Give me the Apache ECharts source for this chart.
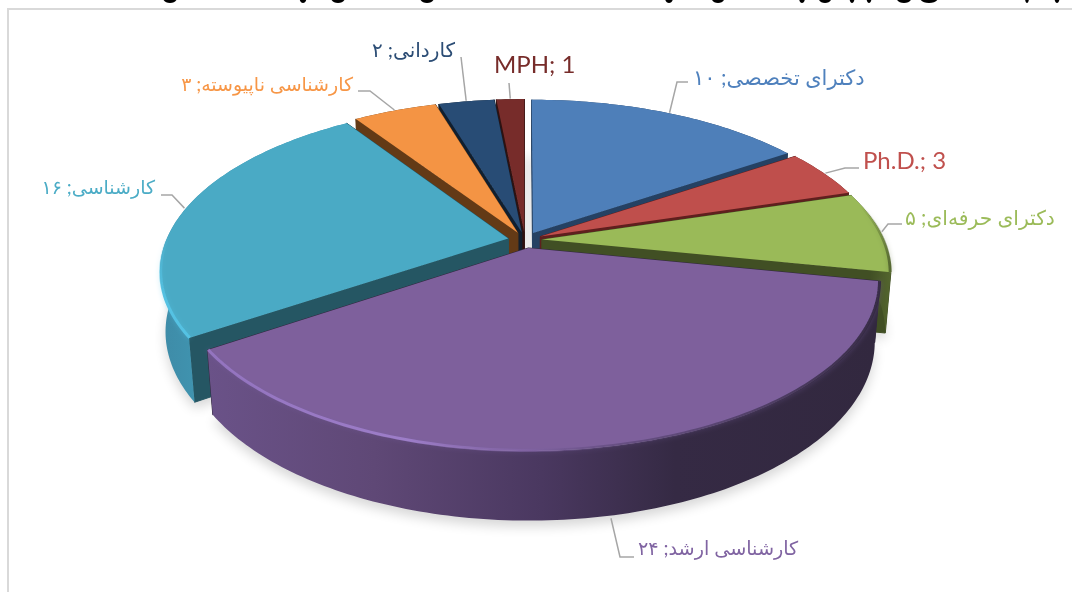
<!DOCTYPE html>
<html>
<head>
<meta charset="utf-8">
<script src="https://cdn.jsdelivr.net/npm/echarts@6/dist/echarts.min.js"></script>
<style>
    html, body {margin: 0; padding: 0; background: #fff;}
    #chart {width: 1072px; height: 592px;}
</style>
</head>
<body>
<div id="chart"></div>
<script>
// 数据
var categories = ['دکترای تخصصی', 'Ph.D.', 'دکترای حرفه‌ای', 'کارشناسی ارشد', 'کارشناسی', 'کارشناسی ناپیوسته', 'کاردانی', 'MPH'];
var seriesValues = [10, 3, 5, 24, 16, 3, 2, 1];
var valueLabels = ['۱۰', '3', '۵', '۲۴', '۱۶', '۳', '۲', '1'];

// 样式
var topColors = ['#4e7fb9', '#bf4f4c', '#9aba58', '#7e609c', '#4aaac5', '#f49444', '#284c75', '#772c2a'];
var wallColors = ['#254163', '#5f1f1e', '#414f24', '#32283f', '#255663', '#633a16', '#111f2f', '#2f1110'];
var textColors = ['#4f81bd', '#c0504d', '#9bbb59', '#8064a2', '#4bacc6', '#f79646', '#2c4d75', '#772c2a'];
var paintOrder = [7, 0, 6, 5, 1, 2, 4, 3];
// leader elbow and label anchor: page pixels
var labelLayout = [
    {elbow: [[677, 82], [688, 82]], x: 693, y: 78, align: 'left', size: 21},
    {elbow: [[845, 168], [859, 168]], x: 863, y: 161, align: 'left', size: 24},
    {elbow: [[888, 224], [902, 224]], x: 905, y: 218, align: 'left', size: 20.3},
    {elbow: [[620, 557], [634, 557]], x: 638, y: 549, align: 'left', size: 19.2},
    {elbow: [[172, 195], [161, 195]], x: 155, y: 188, align: 'right', size: 19},
    {elbow: [[370, 91], [358, 91]], x: 353, y: 85, align: 'right', size: 19},
    {elbow: [[461, 57]], x: 455, y: 51, align: 'right', size: 20},
    {elbow: [[509, 83]], x: 494, y: 65, align: 'left', size: 24}
];
var titleBits = [[170, 14], [303, 7], [338, 14], [427, 14], [669, 8], [718, 13], [802, 6], [825, 13], [852, 5], [869, 5], [904, 15], [929, 18], [1027, 4], [1057, 5]];

// 投影参数
var cx = 525, cy = 240, a = 342, b = 161, c = 60, p = 0.19, q = 0.015, explode = 0.05;
var total = seriesValues.reduce(function (s, v) {return s + v;}, 0);

function sliceAngles(index) {
    var before = 0;
    for (var i = 0; i < index; i++) {
        before += seriesValues[i];
    }
    var start = before / total * Math.PI * 2;
    var end = (before + seriesValues[index]) / total * Math.PI * 2;
    return {start: start, end: end, mid: (start + end) / 2};
}

function project(mid, angle, r, z) {
    var u = r * Math.sin(angle) + explode * Math.sin(mid);
    var v = r * Math.cos(angle) + explode * Math.cos(mid);
    var w = 1 + p * v - q * z;
    return [cx + a * u / w, cy - (b * v + c * z) / w];
}

function arcPoints(angles, r, z, reverse) {
    var steps = Math.max(4, Math.round((angles.end - angles.start) * 180 / Math.PI));
    var pts = [];
    for (var i = 0; i <= steps; i++) {
        var t = angles.start + (angles.end - angles.start) * i / steps;
        pts.push(project(angles.mid, t, r, z));
    }
    return reverse ? pts.reverse() : pts;
}

function grad(x0, y0, x1, y1, stops) {
    return new echarts.graphic.LinearGradient(x0, y0, x1, y1, stops, true);
}

// 侧面和顶面高光
var rimFill = {
    3: grad(208, 0, 875, 0, [{offset: 0, color: '#6a5288'}, {offset: 0.25, color: '#5f4876'}, {offset: 0.5, color: '#4a3860'}, {offset: 0.7, color: '#352a44'}, {offset: 1, color: '#32283f'}]),
    4: grad(157, 0, 210, 0, [{offset: 0, color: '#3e8aa6'}, {offset: 1, color: '#4097b3'}]),
    2: grad(870, 0, 892, 0, [{offset: 0, color: '#414f24'}, {offset: 1, color: '#55672f'}])
};
var bevelStroke = {
    3: grad(208, 0, 875, 0, [{offset: 0, color: 'rgba(150,118,195,0.9)'}, {offset: 0.3, color: 'rgba(160,128,205,0.9)'}, {offset: 0.48, color: 'rgba(130,100,165,0.6)'}, {offset: 0.62, color: 'rgba(80,62,105,0.5)'}, {offset: 1, color: 'rgba(50,40,63,0.9)'}]),
    4: grad(0, 235, 0, 300, [{offset: 0, color: 'rgba(85,194,227,0)'}, {offset: 1, color: 'rgba(85,194,227,1)'}]),
    2: grad(0, 205, 0, 265, [{offset: 0, color: 'rgba(80,98,45,0)'}, {offset: 1, color: 'rgba(80,98,45,0.9)'}])
};
var bevelGlow = {3: 'rgba(120,95,160,0.5)', 4: 'rgba(85,194,227,0.4)', 2: 'rgba(80,98,45,0.4)'};

function renderSlice(params, api) {
    var index = params.dataIndex;
    var angles = sliceAngles(index);
    var order = paintOrder.indexOf(index);
    var base = order * 10 + 10;
    var color = topColors[index];
    var wall = wallColors[index];
    var apexTop = project(angles.mid, 0, 0, 0);
    var apexBottom = project(angles.mid, 0, 0, -1);
    var children = [];

    // 阴影
    children.push({
        type: 'polygon',
        z2: 1,
        shape: {points: [apexBottom].concat(arcPoints(angles, 1, -1))},
        style: {fill: '#e6e6e6', shadowBlur: 12, shadowColor: 'rgba(0,0,0,0.16)', shadowOffsetY: 6}
    });

    [angles.start, angles.end].forEach(function (edge) {
        var rimTop = project(angles.mid, edge, 1, 0);
        var rimBottom = project(angles.mid, edge, 1, -1);
        children.push({
            type: 'polygon',
            z2: base,
            shape: {points: [apexTop, rimTop, rimBottom, apexBottom]},
            style: {fill: wall, stroke: wall, lineWidth: 1, lineJoin: 'round'}
        });
    });

    children.push({
        type: 'polygon',
        z2: base + 1,
        shape: {points: arcPoints(angles, 1, 0).concat(arcPoints(angles, 1, -1, true))},
        style: {fill: rimFill[index] || wall}
    });
    children.push({
        type: 'polygon',
        z2: base + 2,
        shape: {points: [apexTop].concat(arcPoints(angles, 1, 0))},
        style: {fill: color}
    });
    if (bevelStroke[index]) {
        children.push({
            type: 'polyline',
            z2: base + 3,
            shape: {points: arcPoints(angles, 0.998, 0)},
            style: {fill: null, stroke: bevelStroke[index], lineWidth: 3, shadowBlur: 5, shadowColor: bevelGlow[index]}
        });
    }

    // 标签和引导线
    var layout = labelLayout[index];
    var frontRim = Math.cos(angles.mid) < -0.5;
    var from = project(angles.mid, angles.mid, 1.005, frontRim ? -1.02 : 0);
    children.push({
        type: 'polyline',
        z2: 200,
        shape: {points: [from].concat(layout.elbow)},
        style: {fill: null, stroke: '#a6a6a6', lineWidth: 1.5}
    });
    children.push({
        type: 'text',
        z2: 200,
        x: layout.x,
        y: layout.y,
        style: {
            text: categories[index] + '; ' + valueLabels[index],
            fill: textColors[index],
            font: layout.size + 'px Lato, "DejaVu Sans", sans-serif',
            align: layout.align,
            verticalAlign: 'middle'
        }
    });
    return {type: 'group', children: children};
}

var chart = echarts.init(document.getElementById('chart'), null, {renderer: 'canvas'});
var graphics = [{
    type: 'polyline',
    silent: true,
    shape: {points: [[8, 592], [8, 9], [1072, 9]]},
    style: {fill: null, stroke: '#d9d9d9', lineWidth: 2}
}];
titleBits.forEach(function (bit) {
    graphics.push({
        type: 'ellipse',
        silent: true,
        shape: {cx: bit[0], cy: -2, rx: bit[1] / 2, ry: 5},
        style: {fill: '#000'}
    });
});

chart.setOption({
    backgroundColor: '#fff',
    animation: false,
    graphic: graphics,
    series: [{
        type: 'custom',
        coordinateSystem: 'none',
        silent: true,
        renderItem: renderSlice,
        data: seriesValues.map(function (v, i) {return {name: categories[i], value: v};})
    }]
});
</script>
</body>
</html>
